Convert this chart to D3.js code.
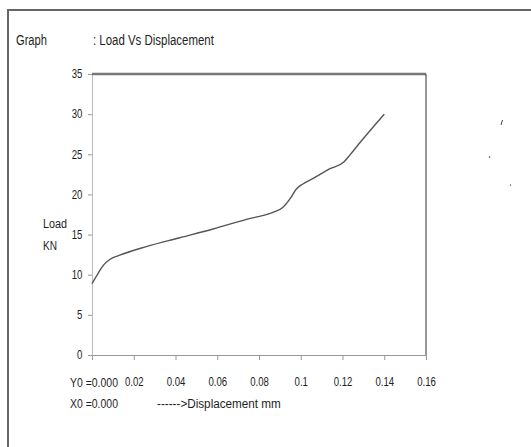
<!DOCTYPE html>
<html>
<head>
<meta charset="utf-8">
<script src="https://cdn.jsdelivr.net/npm/d3@7"></script>
<style>
  body { margin: 0; background: #fff; }
  text { font-family: "Liberation Sans", sans-serif; fill: #1e1e1e; }
</style>
</head>
<body>
<script>
let width = 531
let height = 447

// curve
const displacement = [0, 0.003, 0.0055, 0.0085, 0.013, 0.026, 0.042, 0.058, 0.074, 0.087, 0.0915, 0.095, 0.098, 0.101, 0.106, 0.114, 0.1205, 0.1235, 0.1285, 0.14]
const load = [8.9, 10.2, 11.2, 11.9, 12.4, 13.5, 14.6, 15.7, 16.9, 17.8, 18.4, 19.5, 20.7, 21.3, 22.0, 23.2, 24.0, 24.9, 26.5, 30.0]
const xTicks = [0, 0.02, 0.04, 0.06, 0.08, 0.1, 0.12, 0.14, 0.16]
const yTicks = [0, 5, 10, 15, 20, 25, 30, 35]

var x = d3.scaleLinear().domain([0, 0.16]).range([92, 426])
var y = d3.scaleLinear().domain([0, 35]).range([355, 74])

let svg = d3.select("body").append("svg")
	.attr("width", width)
	.attr("height", height)

// outer frame (left + top only)
svg.append("path")
	.attr("d", "M8,447V10H531")
	.attr("fill", "none")
	.attr("stroke", "#666")
	.attr("stroke-width", 2)

// label helper: no condensed font here, so text is squeezed to the width seen in the picture
function label(str, lx, ly, size, w) {
	let t = svg.append("text")
		.style("font-size", size + "px")
		.text(str)
	let sx = w / t.node().getComputedTextLength()
	t.attr("transform", "translate(" + lx + "," + ly + ") scale(" + sx + ",1)")
}

label("Graph", 16, 44.5, 15, 31)
label(": Load Vs Displacement", 93, 44.5, 15, 121)

// axes
let yAxis = svg.append("g")
	.attr("transform", "translate(" + x(0) + ",0)")
	.call(d3.axisLeft(y).tickValues(yTicks).tickSize(4).tickPadding(6).tickFormat(d3.format("d")))
yAxis.select(".domain").attr("stroke", "#bbb")
yAxis.selectAll(".tick line").attr("stroke", "#999")
yAxis.selectAll("text").style("font-size", "12px").style("font-family", "Liberation Sans, sans-serif")
	.attr("fill", "#1e1e1e").attr("x", -12).attr("transform", "scale(0.8,1)")

let xAxis = svg.append("g")
	.attr("transform", "translate(0," + y(0) + ")")
	.call(d3.axisBottom(x).tickValues(xTicks).tickSize(5).tickPadding(17).tickFormat(d => d == 0 ? "" : d3.format("~g")(d)))
xAxis.select(".domain").attr("stroke", "#999")
xAxis.selectAll(".tick line").attr("stroke", "#999")
xAxis.selectAll("text").style("font-size", "12px").style("font-family", "Liberation Sans, sans-serif")
	.attr("fill", "#1e1e1e").attr("transform", "scale(0.8,1)")

// plot frame: thick top, thin dark right
svg.append("line").attr("x1", x(0)).attr("x2", x(0.16)).attr("y1", y(35)).attr("y2", y(35))
	.attr("stroke", "#777").attr("stroke-width", 2.5)
svg.append("line").attr("x1", x(0.16)).attr("x2", x(0.16)).attr("y1", y(35)).attr("y2", y(0))
	.attr("stroke", "#333").attr("stroke-width", 1)

// curve
let line = d3.line()
	.x((d, i) => x(displacement[i]))
	.y(d => y(d))
	.curve(d3.curveMonotoneX)
svg.append("path")
	.datum(load)
	.attr("d", line)
	.attr("fill", "none")
	.attr("stroke", "#555")
	.attr("stroke-width", 1.4)

// axis names
label("Load", 43, 228, 13.5, 24)
label("KN", 43, 250, 13.5, 14)
label("Y0 =0.000", 70, 387, 13.5, 48)
label("X0 =0.000", 70, 408, 13.5, 48)
label("------>Displacement mm", 157, 408, 13.5, 124)

// stray specks right of the chart
svg.append("line").attr("x1", 501).attr("y1", 125).attr("x2", 502.5).attr("y2", 120).attr("stroke", "#444").attr("stroke-width", 1)
svg.append("circle").attr("cx", 489.5).attr("cy", 157).attr("r", 0.8).attr("fill", "#444")
svg.append("circle").attr("cx", 510.5).attr("cy", 185).attr("r", 0.7).attr("fill", "#555")
</script>
</body>
</html>
